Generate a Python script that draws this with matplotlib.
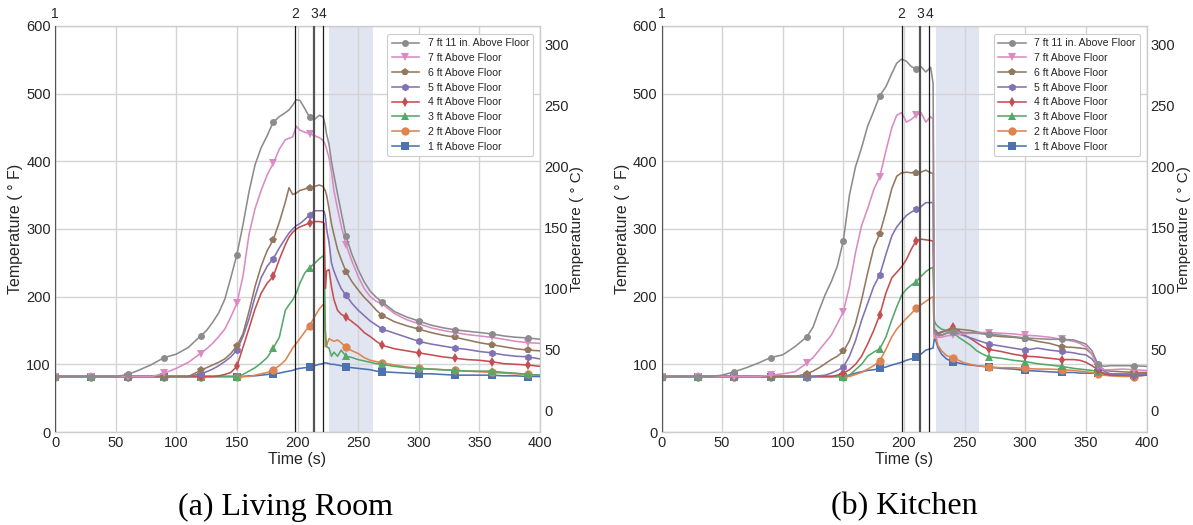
import matplotlib
matplotlib.use("Agg")
import matplotlib.pyplot as plt
import matplotlib.transforms as mtransforms
import numpy as np

# ---------------- data ----------------
labels = ["7 ft 11 in. Above Floor", "7 ft Above Floor", "6 ft Above Floor", "5 ft Above Floor",
          "4 ft Above Floor", "3 ft Above Floor", "2 ft Above Floor", "1 ft Above Floor"]

event_times = [0, 198, 213.5, 221]
event_labels = ["1", "2", "3", "4"]
shade_span = [226, 262]

# Living room
t_living = [0, 10, 20, 30, 40, 50, 60, 70, 80, 90, 100, 110, 120, 125, 130, 135, 140, 145, 150, 155,
            160, 165, 170, 175, 180, 185, 190, 193, 196, 199, 202, 206, 210, 214, 218, 221, 222, 223,
            224, 226, 228, 230, 233, 236, 240, 245, 250, 255, 260, 265, 270, 280, 290, 300, 310, 320,
            330, 340, 350, 360, 370, 380, 390, 400]

lr_7ft11 = [82, 82, 82, 82, 82, 82, 85, 92, 100, 110, 115, 125, 142, 150, 162, 176, 196, 228, 262, 306,
            355, 395, 420, 438, 458, 466, 472, 476, 483, 491, 490, 478, 465, 462, 468, 466, 460, 452,
            440, 425, 400, 380, 352, 325, 289, 262, 240, 222, 208, 199, 192, 178, 170, 164, 158, 154,
            151, 149, 147, 145, 142, 140, 139, 137]
lr_7ft = [82, 82, 82, 82, 82, 82, 82, 82, 82, 87, 94, 103, 116, 123, 131, 141, 152, 170, 190, 230,
          292, 330, 357, 380, 397, 418, 432, 434, 436, 452, 446, 443, 441, 438, 435, 431, 428, 424,
          418, 405, 385, 357, 330, 305, 277, 252, 230, 212, 200, 193, 189, 175, 166, 160, 154, 150,
          147, 144, 142, 140, 137, 134, 132, 131]
lr_6ft = [82, 82, 82, 82, 82, 82, 82, 82, 82, 82, 82, 82, 91, 95, 99, 103, 108, 116, 127, 145,
          178, 215, 245, 268, 284, 310, 340, 361, 351, 353, 357, 359, 361, 363, 365, 363, 360, 356,
          350, 330, 308, 292, 270, 255, 237, 222, 210, 199, 190, 180, 172, 163, 157, 152, 147, 143,
          140, 136, 132, 129, 126, 123, 121, 120]
lr_5ft = [82, 82, 82, 82, 82, 82, 82, 82, 82, 82, 82, 82, 86, 89, 93, 98, 104, 111, 121, 141,
          167, 200, 228, 245, 256, 272, 286, 294, 300, 305, 308, 314, 321, 327, 327, 327, 326, 318,
          300, 280, 250, 238, 224, 212, 202, 190, 180, 172, 164, 158, 152, 146, 140, 134, 130, 127,
          124, 122, 119, 117, 114, 112, 111, 108]
lr_4ft = [82, 82, 82, 82, 82, 82, 82, 82, 82, 82, 82, 82, 82, 82, 82, 83, 85, 88, 97, 125,
          153, 182, 205, 220, 230, 255, 277, 288, 295, 300, 303, 306, 309, 311, 311, 310, 308, 212,
          238, 240, 215, 196, 180, 174, 170, 163, 156, 147, 141, 134, 128, 123, 120, 117, 114, 111,
          109, 107, 106, 104, 101, 100, 99, 97]
lr_3ft = [82, 82, 82, 82, 82, 82, 82, 82, 82, 82, 82, 82, 82, 82, 82, 82, 82, 82, 82, 85,
          90, 95, 102, 110, 124, 140, 180, 188, 195, 205, 220, 235, 243, 249, 256, 260, 260, 150,
          126, 124, 112, 118, 112, 121, 112, 110, 107, 105, 103, 101, 100, 97, 95, 94, 93, 92,
          91, 90, 90, 90, 88, 87, 85, 84]
lr_2ft = [82, 82, 82, 82, 82, 82, 82, 82, 82, 82, 82, 82, 82, 82, 82, 82, 82, 82, 82, 82,
          82, 84, 86, 88, 92, 98, 106, 115, 124, 131, 138, 148, 157, 170, 182, 188, 189, 126,
          128, 138, 136, 134, 136, 132, 125, 120, 116, 110, 106, 104, 102, 99, 96, 94, 93, 92,
          91, 90, 89, 88, 87, 86, 85, 84]
lr_1ft = [82, 82, 82, 82, 82, 82, 82, 82, 82, 82, 82, 82, 82, 82, 82, 82, 82, 82, 82, 82,
          83, 83, 84, 85, 86, 87, 89, 90, 91, 93, 94, 95, 96, 98, 100, 101, 102, 102,
          102, 101, 100, 100, 99, 98, 96, 95, 94, 93, 92, 90, 89, 88, 87, 86, 86, 85,
          84, 84, 84, 84, 83, 83, 82, 82]

# Kitchen
t_kitchen = [0, 10, 20, 30, 40, 50, 60, 70, 80, 90, 100, 110, 120, 125, 130, 135, 140, 145, 150, 155,
             160, 165, 170, 175, 180, 185, 190, 194, 198, 202, 206, 210, 214, 218, 222, 224, 225, 226,
             228, 231, 235, 240, 245, 250, 255, 260, 265, 270, 280, 290, 300, 310, 320, 330, 340, 345,
             350, 355, 360, 365, 370, 380, 390, 400]

k_7ft11 = [82, 82, 82, 82, 82, 84, 89, 95, 102, 110, 114, 126, 141, 155, 180, 203, 222, 245, 283, 350,
           392, 420, 452, 474, 497, 510, 530, 545, 551, 548, 540, 537, 540, 532, 539, 515, 150, 145,
           142, 143, 146, 148, 148, 147, 147, 146, 145, 145, 143, 141, 139, 138, 137, 137, 136, 133,
           130, 120, 100, 97, 98, 98, 98, 97]
k_7ft = [82, 82, 82, 82, 82, 82, 82, 82, 82, 84, 86, 89, 102, 110, 121, 132, 143, 160, 178, 215,
         265, 305, 330, 358, 377, 415, 450, 468, 472, 458, 462, 468, 472, 458, 466, 462, 140, 138,
         140, 140, 142, 143, 144, 145, 146, 147, 147, 147, 146, 145, 143, 142, 140, 137, 134, 131,
         126, 115, 97, 92, 92, 93, 92, 91]
k_6ft = [82, 82, 82, 82, 82, 82, 82, 82, 82, 82, 82, 82, 86, 90, 95, 101, 107, 112, 119, 135,
         160, 195, 235, 272, 293, 325, 360, 378, 383, 384, 383, 383, 384, 387, 383, 382, 145, 146,
         145, 147, 150, 151, 152, 151, 150, 148, 146, 143, 141, 140, 138, 134, 131, 126, 125, 124,
         123, 115, 99, 92, 90, 89, 88, 88]
k_5ft = [82, 82, 82, 82, 82, 82, 82, 82, 82, 82, 82, 82, 82, 82, 83, 84, 87, 91, 96, 112,
         135, 165, 190, 215, 232, 262, 290, 303, 312, 320, 325, 329, 333, 339, 339, 339, 148, 150,
         145, 143, 146, 148, 145, 142, 139, 136, 133, 130, 127, 124, 121, 124, 121, 119, 117, 115,
         114, 108, 96, 90, 86, 85, 84, 86]
k_4ft = [82, 82, 82, 82, 82, 82, 82, 82, 82, 82, 82, 82, 82, 82, 82, 82, 82, 84, 87, 92,
         100, 112, 130, 150, 173, 205, 228, 236, 244, 255, 270, 283, 285, 284, 283, 282, 152, 150,
         146, 148, 150, 155, 150, 143, 138, 132, 126, 122, 119, 115, 112, 111, 109, 107, 107, 106,
         103, 98, 92, 86, 84, 84, 83, 84]
k_3ft = [82, 82, 82, 82, 82, 82, 82, 82, 82, 82, 82, 82, 82, 82, 82, 82, 82, 82, 82, 84,
         92, 100, 112, 118, 123, 140, 166, 185, 202, 211, 217, 222, 230, 237, 242, 243, 165, 160,
         156, 152, 150, 148, 140, 134, 128, 120, 115, 111, 109, 106, 104, 101, 99, 97, 94, 93,
         92, 91, 89, 87, 86, 86, 86, 87]
k_2ft = [82, 82, 82, 82, 82, 82, 82, 82, 82, 82, 82, 82, 82, 82, 82, 82, 82, 82, 82, 82,
         85, 88, 93, 98, 105, 122, 141, 152, 160, 168, 175, 183, 188, 193, 198, 200, 140, 143,
         128, 120, 113, 110, 106, 102, 100, 98, 97, 96, 95, 95, 94, 93, 93, 92, 91, 90,
         89, 88, 85, 84, 83, 82, 82, 84]
k_1ft = [82, 82, 82, 82, 82, 82, 82, 82, 82, 82, 82, 82, 82, 82, 82, 82, 82, 82, 82, 84,
         87, 89, 91, 92, 94, 96, 99, 101, 103, 106, 108, 111, 115, 121, 123, 124, 138, 136,
         125, 115, 108, 104, 102, 100, 99, 98, 97, 96, 94, 93, 91, 90, 89, 88, 88, 87,
         87, 87, 87, 86, 85, 85, 84, 84]

panels = [
    ("(a) Living Room", t_living, [lr_7ft11, lr_7ft, lr_6ft, lr_5ft, lr_4ft, lr_3ft, lr_2ft, lr_1ft]),
    ("(b) Kitchen", t_kitchen, [k_7ft11, k_7ft, k_6ft, k_5ft, k_4ft, k_3ft, k_2ft, k_1ft]),
]

# ---------------- style ----------------
colors = ["#8c8c8c", "#da8bc3", "#937860", "#8172b3", "#c44e52", "#55a868", "#dd8452", "#4c72b0"]
markers = ["o", "v", "p", "h", "d", "^", "o", "s"]
msizes = [5, 5.5, 5.5, 5.5, 5.5, 5.5, 6, 5.5]

plt.rcParams["font.family"] = ["Liberation Sans", "DejaVu Sans"]
TXT = "#262626"

fig = plt.figure(figsize=(11.93, 5.25), dpi=100)
ax_lefts = [55 / 1193, 661.5 / 1193]
cap_x = [285 / 1193, 904 / 1193]
W = 485 / 1193
B = 1 - 432 / 525
H = (432 - 26) / 525

for p, (caption, t, series) in enumerate(panels):
    ax = fig.add_axes([ax_lefts[p], B, W, H])
    ax.set_facecolor("white")
    t_arr = np.asarray(t, dtype=float)
    mark_idx = [i for i, v in enumerate(t) if v % 30 == 0]
    ax.axvspan(shade_span[0], shade_span[1], color="#e1e5f1", zorder=0.5, lw=0)
    handles = []
    for k in reversed(range(8)):
        h, = ax.plot(t_arr, series[k], color=colors[k], lw=1.15, marker=markers[k],
                     markersize=msizes[k], markeredgewidth=0, markevery=mark_idx,
                     label=labels[k], zorder=3)
        handles.append(h)
    handles = handles[::-1]
    trans = mtransforms.blended_transform_factory(ax.transData, ax.transAxes)
    for et, el in zip(event_times, event_labels):
        if el in ("1", "3"):
            ax.axvline(et, color="#555555", lw=1.6, zorder=4)
        else:
            ax.axvline(et, color="#1a1a1a", lw=0.9, zorder=4)
        ax.text(et, 1.012, el, transform=trans, ha="center", va="bottom",
                fontsize=10, color=TXT)
    ax.set_xlim(0, 400)
    ax.set_ylim(0, 600)
    ax.set_xticks(np.arange(0, 401, 50))
    ax.set_yticks(np.arange(0, 601, 100))
    ax.grid(True, color="#d4d4d4", lw=1.0, zorder=0)
    ax.set_axisbelow(True)
    for s in ax.spines.values():
        s.set_color("#cccccc")
        s.set_linewidth(1.0)
    ax.tick_params(length=0, labelsize=10.5, labelcolor=TXT, pad=3)
    ax.set_xlabel("Time (s)", fontsize=11.5, color=TXT, labelpad=1)
    ax.set_ylabel("Temperature ( ° F)", fontsize=11.5, color=TXT, labelpad=2)
    leg = ax.legend(handles=handles, loc="upper right", fontsize=7.6, frameon=True,
                    framealpha=1, edgecolor="#cccccc", handlelength=2.6, labelspacing=0.45,
                    borderpad=0.4, bbox_to_anchor=(0.997, 0.993))
    leg.get_frame().set_linewidth(0.8)
    for txt in leg.get_texts():
        txt.set_color(TXT)

    ax2 = ax.twinx()
    ax2.set_ylim((0 - 32) * 5 / 9, (600 - 32) * 5 / 9)
    ax2.set_yticks(np.arange(0, 301, 50))
    ax2.grid(False)
    for s in ax2.spines.values():
        s.set_visible(False)
    ax2.tick_params(length=0, labelsize=10.5, labelcolor=TXT, pad=3)
    ax2.set_ylabel("Temperature ( ° C)", fontsize=11, color=TXT, labelpad=1)

    fig.text(cap_x[p], 1 - 507 / 525, caption, ha="center", va="center",
             fontsize=23, family=["Liberation Serif", "DejaVu Serif"], color="black")

fig.savefig("out.png", dpi=100, facecolor="white")
